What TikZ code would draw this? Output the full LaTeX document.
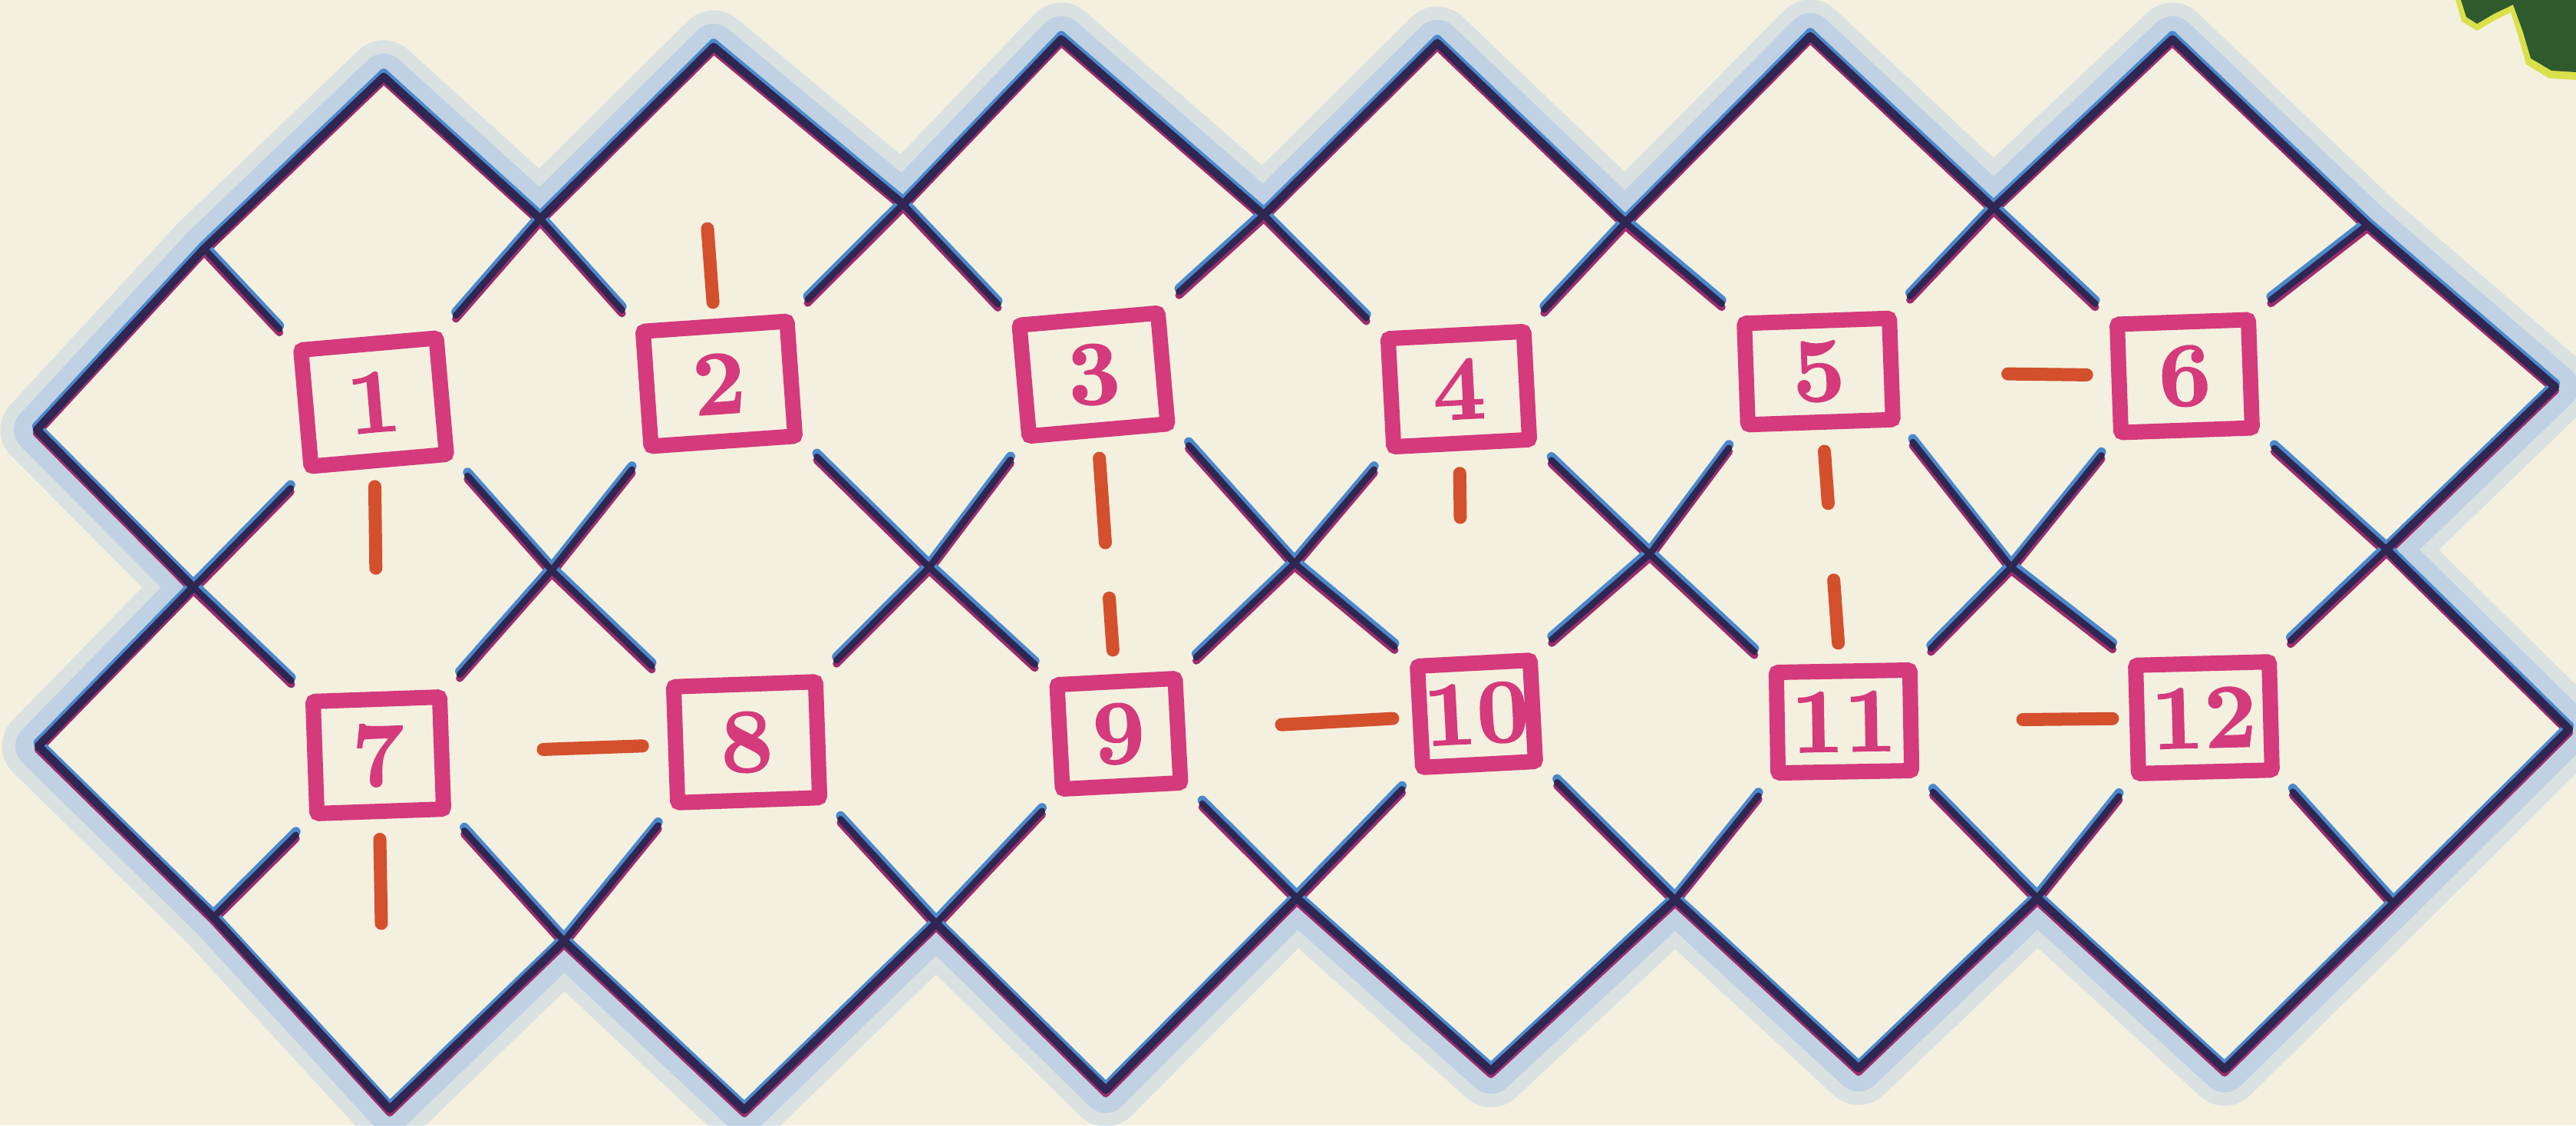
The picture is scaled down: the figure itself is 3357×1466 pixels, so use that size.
\documentclass[tikz,border=0pt]{standalone}
\usepackage{fontspec}
\newfontfamily\numfont[FakeBold=1.2]{lmroman10-bold.otf}
\usetikzlibrary{calc}
\definecolor{bg}{HTML}{F4F0E0}
\definecolor{halo}{HTML}{8FB6E6}
\definecolor{lnblue}{HTML}{4A89CC}
\definecolor{lndark}{HTML}{2F2652}
\definecolor{lnmag}{HTML}{9C2C6C}
\definecolor{boxpink}{HTML}{D43A7C}
\definecolor{dashor}{HTML}{D4502C}
\definecolor{leafg}{HTML}{2E5A2E}
\definecolor{leafy}{HTML}{D9E04A}
\tikzset{
  lmag/.style={draw=lnmag, line width=0.10cm, line cap=round, line join=round},
  lblu/.style={draw=lnblue, line width=0.12cm, line cap=round, line join=round},
  ldark/.style={draw=lndark, line width=0.085cm, line cap=round, line join=round},
  gapE/.style={shorten >=0.25cm},
  gapS/.style={shorten <=0.25cm},
  gapB/.style={shorten <=0.25cm, shorten >=0.25cm},
  numbox/.style={draw=boxpink, line width=0.2cm, text=boxpink,
    font=\numfont\fontsize{34}{34}\selectfont, inner sep=0pt, rounded corners=0.03cm},
  redbar/.style={draw=dashor, line width=0.17cm, line cap=round},
}
\newcommand\mygrid[1]{%
  % down-right strokes
  \draw[#1] (p0-4) -- (p1-5) -- (p2-6);
  \draw[#1,gapE] (p0-2) -- (p1-3) -- (b7.north west);
  \draw[#1,gapS] (b7.south east) -- (p3-5) -- (p4-6);
  \draw[#1,gapE] (p1-1) -- (b1.north west);
  \draw[#1,gapB] (b1.south east) -- (p3-3) -- (b8.north west);
  \draw[#1,gapS] (b8.south east) -- (p5-5) -- (p6-6);
  \draw[#1,gapE] (p2-0) -- (p3-1) -- (b2.north west);
  \draw[#1,gapB] (b2.south east) -- (p5-3) -- (b9.north west);
  \draw[#1,gapS] (b9.south east) -- (p7-5) -- (p8-6);
  \draw[#1,gapE] (p4-0) -- (p5-1) -- (b3.north west);
  \draw[#1,gapB] (b3.south east) -- (p7-3) -- (b10.north west);
  \draw[#1,gapS] (b10.south east) -- (p9-5) -- (p10-6);
  \draw[#1,gapE] (p6-0) -- (p7-1) -- (b4.north west);
  \draw[#1,gapB] (b4.south east) -- (p9-3) -- (b11.north west);
  \draw[#1,gapS] (b11.south east) -- (p11-5) -- (p12-6);
  \draw[#1,gapE] (p8-0) -- (p9-1) -- (b5.north west);
  \draw[#1,gapB] (b5.south east) -- (p11-3) -- (b12.north west);
  \draw[#1,gapS] (b12.south east) -- (p13-5);
  \draw[#1,gapE] (p10-0) -- (p11-1) -- (b6.north west);
  \draw[#1,gapS] (b6.south east) -- (p13-3) -- (p14-4);
  \draw[#1] (p12-0) -- (p13-1) -- (p14-2);
  % up-right strokes
  \draw[#1] (p0-2) -- (p1-1) -- (p2-0);
  \draw[#1,gapE] (p0-4) -- (p1-3) -- (b1.south west);
  \draw[#1,gapS] (b1.north east) -- (p3-1) -- (p4-0);
  \draw[#1,gapE] (p1-5) -- (b7.south west);
  \draw[#1,gapB] (b7.north east) -- (p3-3) -- (b2.south west);
  \draw[#1,gapS] (b2.north east) -- (p5-1) -- (p6-0);
  \draw[#1,gapE] (p2-6) -- (p3-5) -- (b8.south west);
  \draw[#1,gapB] (b8.north east) -- (p5-3) -- (b3.south west);
  \draw[#1,gapS] (b3.north east) -- (p7-1) -- (p8-0);
  \draw[#1,gapE] (p4-6) -- (p5-5) -- (b9.south west);
  \draw[#1,gapB] (b9.north east) -- (p7-3) -- (b4.south west);
  \draw[#1,gapS] (b4.north east) -- (p9-1) -- (p10-0);
  \draw[#1,gapE] (p6-6) -- (p7-5) -- (b10.south west);
  \draw[#1,gapB] (b10.north east) -- (p9-3) -- (b5.south west);
  \draw[#1,gapS] (b5.north east) -- (p11-1) -- (p12-0);
  \draw[#1,gapE] (p8-6) -- (p9-5) -- (b11.south west);
  \draw[#1,gapB] (b11.north east) -- (p11-3) -- (b6.south west);
  \draw[#1,gapS] (b6.north east) -- (p13-1);
  \draw[#1,gapE] (p10-6) -- (p11-5) -- (b12.south west);
  \draw[#1,gapS] (b12.north east) -- (p13-3) -- (p14-2);
  \draw[#1] (p12-6) -- (p13-5) -- (p14-4);
}
\begin{document}
\begin{tikzpicture}[x=0.01cm, y=-0.01cm]
\useasboundingbox (0,0) rectangle (3357,1466);
\fill[bg] (0,0) rectangle (3357,1466);
% lattice points
\coordinate (p2-0) at (500,100);
\coordinate (p4-0) at (930,61);
\coordinate (p6-0) at (1383,51);
\coordinate (p8-0) at (1873,56);
\coordinate (p10-0) at (2359,47);
\coordinate (p12-0) at (2831,51);
\coordinate (p1-1) at (266,324);
\coordinate (p3-1) at (704,285);
\coordinate (p5-1) at (1177,266);
\coordinate (p7-1) at (1647,280);
\coordinate (p9-1) at (2118,290);
\coordinate (p11-1) at (2598,271);
\coordinate (p13-1) at (3085,293);
\coordinate (p0-2) at (48,560);
\coordinate (p14-2) at (3330,504);
\coordinate (p1-3) at (252,765);
\coordinate (p3-3) at (719,743);
\coordinate (p5-3) at (1211,739);
\coordinate (p7-3) at (1687,734);
\coordinate (p9-3) at (2150,722);
\coordinate (p11-3) at (2621,739);
\coordinate (p13-3) at (3110,716);
\coordinate (p0-4) at (50,972);
\coordinate (p14-4) at (3348,950);
\coordinate (p1-5) at (278,1195);
\coordinate (p3-5) at (735,1226);
\coordinate (p5-5) at (1220,1203);
\coordinate (p7-5) at (1690,1170);
\coordinate (p9-5) at (2183,1172);
\coordinate (p11-5) at (2655,1170);
\coordinate (p13-5) at (3119,1177);
\coordinate (p2-6) at (508,1445);
\coordinate (p4-6) at (970,1446);
\coordinate (p6-6) at (1441,1420);
\coordinate (p8-6) at (1943,1395);
\coordinate (p10-6) at (2422,1392);
\coordinate (p12-6) at (2899,1393);
% leaf corner
\fill[leafy] (3200,0) -- (3208,28) -- (3228,40) -- (3252,26) -- (3272,16) -- (3282,48) -- (3292,84) -- (3322,102) -- (3357,104) -- (3357,0) -- cycle;
\fill[leafg] (3207,0) -- (3214,22) -- (3228,31) -- (3250,18) -- (3275,6) -- (3288,42) -- (3298,76) -- (3325,92) -- (3357,94) -- (3357,0) -- cycle;
% blue wash around the outline
\def\outline{(p0-2) -- (p1-1) -- (p2-0) -- (p3-1) -- (p4-0) -- (p5-1) -- (p6-0) -- (p7-1) -- (p8-0) -- (p9-1) -- (p10-0) -- (p11-1) -- (p12-0) -- (p13-1) -- (p14-2) -- (p13-3) -- (p14-4) -- (p13-5) -- (p12-6) -- (p11-5) -- (p10-6) -- (p9-5) -- (p8-6) -- (p7-5) -- (p6-6) -- (p5-5) -- (p4-6) -- (p3-5) -- (p2-6) -- (p1-5) -- (p0-4) -- (p1-3) -- cycle}
\draw[halo, opacity=0.25, line width=0.95cm, line join=round] \outline;
\draw[halo, opacity=0.35, line width=0.6cm, line join=round] \outline;
\fill[bg] \outline;
% numbered boxes
\node[numbox, minimum width=1.77cm, minimum height=1.52cm, rotate=5] (b1) at (487,524) {1};
\node[numbox, minimum width=1.88cm, minimum height=1.50cm, rotate=4] (b2) at (937,500) {2};
\node[numbox, minimum width=1.81cm, minimum height=1.45cm, rotate=5] (b3) at (1425,488) {3};
\node[numbox, minimum width=1.77cm, minimum height=1.41cm, rotate=3] (b4) at (1901,507) {4};
\node[numbox, minimum width=1.89cm, minimum height=1.32cm, rotate=2] (b5) at (2370,484) {5};
\node[numbox, minimum width=1.71cm, minimum height=1.41cm, rotate=2] (b6) at (2847,490) {6};
\node[numbox, minimum width=1.65cm, minimum height=1.46cm, rotate=2] (b7) at (493,984) {7};
\node[numbox, minimum width=1.85cm, minimum height=1.51cm, rotate=2] (b8) at (973,967) {8};
\node[numbox, minimum width=1.54cm, minimum height=1.36cm, rotate=3] (b9) at (1458,956) {9};
\node[numbox, minimum width=1.47cm, minimum height=1.32cm, rotate=3] (b10) at (1924,930) {10};
\node[numbox, minimum width=1.74cm, minimum height=1.31cm, rotate=1] (b11) at (2403,940) {11};
\node[numbox, minimum width=1.74cm, minimum height=1.41cm, rotate=1.5] (b12) at (2872,935) {12};
% lattice lines (three printing layers, slightly out of register)
\begin{scope}[transform canvas={yshift=-0.045cm}]
  \mygrid{lmag}
\end{scope}
\begin{scope}[transform canvas={yshift=0.045cm}]
  \mygrid{lblu}
\end{scope}
\mygrid{ldark}
% heavier outer outline
\draw[lndark, line width=0.105cm, line join=round] \outline;
% orange bars
\coordinate (e7) at (497,1203);
\coordinate (e2) at (922,298);
\coordinate (e4) at (1903,674);
\draw[redbar] ($(b1)!0.239!(b7)$) -- ($(b1)!0.470!(b7)$);
\draw[redbar] ($(b7)!0.50!(e7)$) -- (e7);
\draw[redbar] (e2) -- ($(e2)!0.475!(b2)$);
\draw[redbar] ($(b7)!0.448!(b8)$) -- ($(b7)!0.717!(b8)$);
\draw[redbar] ($(b3)!0.233!(b9)$) -- ($(b3)!0.468!(b9)$);
\draw[redbar] ($(b3)!0.622!(b9)$) -- ($(b3)!0.767!(b9)$);
\draw[redbar] ($(b4)!0.657!(e4)$) -- (e4);
\draw[redbar] ($(b9)!0.455!(b10)$) -- ($(b9)!0.766!(b10)$);
\draw[redbar] ($(b5)!0.517!(b6)$) -- ($(b5)!0.732!(b6)$);
\draw[redbar] ($(b5)!0.228!(b11)$) -- ($(b5)!0.377!(b11)$);
\draw[redbar] ($(b5)!0.596!(b11)$) -- ($(b5)!0.776!(b11)$);
\draw[redbar] ($(b11)!0.497!(b12)$) -- ($(b11)!0.746!(b12)$);
\end{tikzpicture}
\end{document}
